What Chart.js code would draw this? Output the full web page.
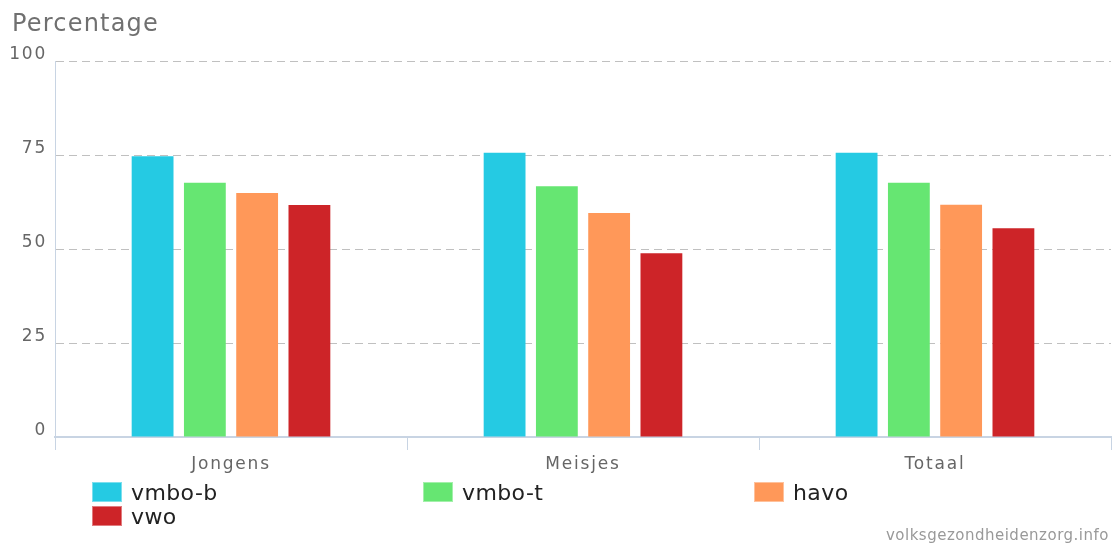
<!DOCTYPE html>
<html>
<head>
<meta charset="utf-8">
<script src="https://cdn.jsdelivr.net/npm/chart.js@4/dist/chart.umd.min.js"></script>
<style>
  html, body { margin: 0; padding: 0; background: #fff; }
  body { width: 1115px; height: 545px; position: relative; overflow: hidden; font-family: "DejaVu Sans", Verdana, sans-serif; }
  #wrap { position: absolute; left: 0; top: 0; width: 1115px; height: 545px; }
  #title { position: absolute; left: 12px; top: 8px; font-size: 24px; letter-spacing: 1.2px; color: #707070; line-height: 30px; }
  #legend { position: absolute; left: 0; top: 0; width: 1115px; height: 545px; pointer-events: none; }
  .li { position: absolute; display: flex; align-items: center; font-size: 22px; letter-spacing: 0.4px; color: #222; height: 20px; }
  .sw { width: 30px; height: 20px; margin-right: 9px; box-sizing: border-box; border: 1px solid rgba(255,255,255,0.4); flex: none; }
  #credit { position: absolute; right: 6px; top: 526px; font-size: 15px; color: #999; line-height: 18px; letter-spacing: 0.5px; }
</style>
</head>
<body>
<div id="wrap"><canvas id="c" width="1115" height="545"></canvas></div>
<div id="title">Percentage</div>
<div id="legend"></div>
<div id="credit">volksgezondheidenzorg.info</div>
<script>
const categories = ["Jongens", "Meisjes", "Totaal"];
const seriesNames = ["vmbo-b", "vmbo-t", "havo", "vwo"];
const vmboB = [74.7, 75.6, 75.6];
const vmboT = [67.6, 66.7, 67.6];
const havo = [64.9, 59.6, 61.8];
const vwo = [61.7, 48.9, 55.5];
const yTicks = [0, 25, 50, 75, 100];
const colors = ["#25cae3", "#66e672", "#ff9859", "#cd2428"];

const seriesValues = [vmboB, vmboT, havo, vwo];

const datasets = seriesNames.map((name, i) => ({
  label: name,
  data: seriesValues[i],
  backgroundColor: colors[i],
  borderWidth: 0,
  categoryPercentage: 0.594,
  barPercentage: 0.80
}));

const spacing = {
  id: "letterSpacing",
  beforeLayout(chart) { chart.ctx.letterSpacing = "1.8px"; },
  beforeDraw(chart) { chart.ctx.letterSpacing = "1.8px"; }
};

new Chart(document.getElementById("c"), {
  type: "bar",
  data: { labels: categories, datasets: datasets },
  options: {
    responsive: false,
    animation: false,
    layout: { padding: { top: 61, right: 4, bottom: 68, left: 0 } },
    plugins: { legend: { display: false }, tooltip: { enabled: false }, title: { display: false } },
    scales: {
      x: {
        offset: true,
        grid: { offset: true, drawOnChartArea: false, drawTicks: true, tickLength: 13, color: "#c8d4e3", lineWidth: 1 },
        border: { display: true, color: "#c8d4e3", width: 2 },
        ticks: { color: "#666", font: { family: "DejaVu Sans", size: 17 }, padding: 4 },
        afterFit: (s) => { s.height = 40; }
      },
      y: {
        min: 0, max: 100,
        afterBuildTicks: (s) => { s.ticks = yTicks.map(v => ({ value: v })); },
        grid: {
          drawTicks: false,
          color: (ctx) => ctx.tick && ctx.tick.value === 0 ? "rgba(0,0,0,0)" : "#c0c0c0",
          lineWidth: 1
        },
        border: { display: true, color: "#c8d4e3", width: 1, dash: [8, 5] },
        ticks: { color: "#666", font: { family: "DejaVu Sans", size: 17 }, padding: 8, labelOffset: -6 },
        afterFit: (s) => { s.width = 55; }
      }
    }
  },
  plugins: [spacing]
});

// HTML legend built from series arrays
const legend = document.getElementById("legend");
const pos = [[92, 482], [423, 482], [754, 482], [92, 506]];
seriesNames.forEach((name, i) => {
  const d = document.createElement("div");
  d.className = "li";
  d.style.left = pos[i][0] + "px";
  d.style.top = pos[i][1] + "px";
  const sw = document.createElement("span");
  sw.className = "sw";
  sw.style.background = colors[i];
  const t = document.createElement("span");
  t.textContent = name;
  d.appendChild(sw); d.appendChild(t);
  legend.appendChild(d);
});
</script>
</body>
</html>
